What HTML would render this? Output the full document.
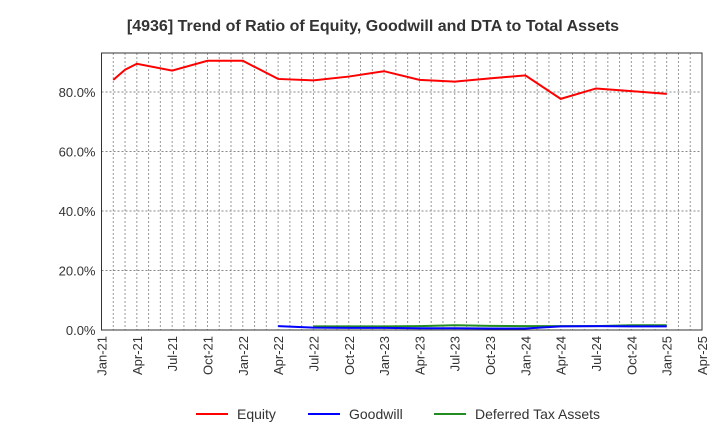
<!DOCTYPE html>
<html><head><meta charset="utf-8"><style>
body{margin:0;background:#fff;font-family:"Liberation Sans",sans-serif}
</style></head><body>
<svg id="chart" width="720" height="440" xmlns="http://www.w3.org/2000/svg" font-family="Liberation Sans, sans-serif">
<text x="373" y="31" text-anchor="middle" font-size="16" font-weight="bold" fill="#333">[4936]  Trend of Ratio of Equity, Goodwill and DTA to Total Assets</text>
<g id="grid"></g><g id="axes"></g><g id="series"></g>
<g>
<line x1="196" y1="414" x2="228" y2="414" stroke="#f00" stroke-width="2"/>
<text x="237" y="419" font-size="14" fill="#333">Equity</text>
<line x1="308" y1="414" x2="340" y2="414" stroke="#00f" stroke-width="2"/>
<text x="349" y="419" font-size="14" fill="#333">Goodwill</text>
<line x1="434" y1="414" x2="466" y2="414" stroke="#228b22" stroke-width="2"/>
<text x="475" y="419" font-size="14" fill="#333">Deferred Tax Assets</text>
</g>
</svg>
<script>
const tickLabels=["Jan-21","Apr-21","Jul-21","Oct-21","Jan-22","Apr-22","Jul-22","Oct-22","Jan-23","Apr-23","Jul-23","Oct-23","Jan-24","Apr-24","Jul-24","Oct-24","Jan-25","Apr-25"];
const yTicks=[0,20,40,60,80];
const equityMonths=[1,2,3,6,9,12,15,18,21,24,27,30,33,36,39,42,45,48];
const equityValues=[84.1,87.5,89.5,87.2,90.5,90.5,84.4,83.9,85.2,87.0,84.1,83.5,84.6,85.6,77.7,81.2,80.3,79.4];
const goodwillMonths=[15,18,21,24,27,30,33,36,39,42,45,48];
const goodwillValues=[1.3,0.8,0.7,0.7,0.6,0.6,0.5,0.5,1.2,1.3,1.2,1.2];
const dtaMonths=[18,21,24,27,30,33,36,39,42,45,48];
const dtaValues=[1.2,1.2,1.2,1.3,1.6,1.4,1.3,1.3,1.3,1.6,1.6];
const L=101.5,R=702,T=53,B=330,NM=51;
const x=m=>L+(R-L)*m/NM;
const y=v=>B-v*(B-60.5)/90.6;
const ns="http://www.w3.org/2000/svg";
function mk(t,a,p){const e=document.createElementNS(ns,t);for(const k in a)e.setAttribute(k,a[k]);p.appendChild(e);return e;}
const grid=document.getElementById('grid'),axes=document.getElementById('axes'),ser=document.getElementById('series');
for(let m=1;m<NM;m++){const l=mk('line',{x1:x(m),x2:x(m),y1:T,y2:B,stroke:'#999','stroke-dasharray':'2,2'},grid);

}
yTicks.forEach(v=>{if(v>0){const l=mk('line',{x1:L,x2:R,y1:y(v),y2:y(v),stroke:'#888','stroke-dasharray':'2,2'},grid);

}
const t=mk('text',{x:L-6,y:y(v)+5,'text-anchor':'end','font-size':'13',fill:'#333'},axes);t.textContent=v.toFixed(1)+'%';

});
const fr=mk('rect',{x:L,y:T,width:R-L,height:B-T,fill:'none',stroke:'#333'},axes);


tickLabels.forEach((s,i)=>{const xx=x(i*3);const t=mk('text',{x:0,y:0,'text-anchor':'end','font-size':'13',fill:'#333',transform:`translate(${xx+5},${B+6}) rotate(-90)`},axes);t.textContent=s;

});
function line(ms,vs,c,n){const p=mk('polyline',{points:ms.map((m,i)=>x(m)+','+y(vs[i])).join(' '),fill:'none',stroke:c,'stroke-width':2},ser);

}
line(dtaMonths,dtaValues,'#228b22','dta-line');
line(goodwillMonths,goodwillValues,'#00f','goodwill-line');
line(equityMonths,equityValues,'#f00','equity-line');
</script>
</body></html>
